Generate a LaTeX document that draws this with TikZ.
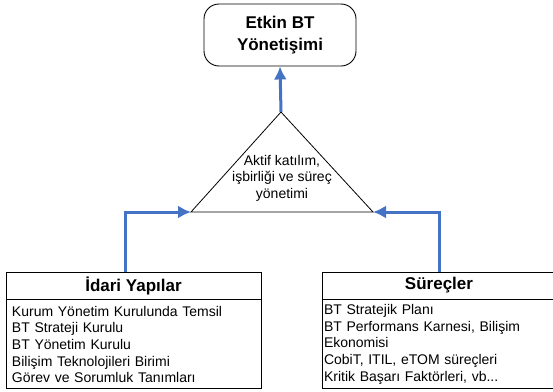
\documentclass[tikz,border=0pt]{standalone}
\usepackage{fontspec}
\setmainfont{Liberation Sans}
\usetikzlibrary{positioning, arrows.meta}
\definecolor{okmavi}{RGB}{68,114,196}

\tikzset{
  baslik/.style={draw, rectangle, line width=0.9pt, minimum height=27pt, font=\bfseries\fontsize{17}{20}\selectfont},
  icerik/.style={draw, rectangle, line width=0.9pt, align=left, anchor=north, minimum height=89pt, font=\fontsize{14}{16.6}\selectfont},
  ok/.style={draw=okmavi, line width=3pt, -{Latex[length=13pt,width=13pt]}}
}

\begin{document}
\begin{tikzpicture}[x=1pt, y=-1pt]
\useasboundingbox (0,0) rectangle (553,391);

\node[draw, rectangle, line width=0.9pt, rounded corners=15pt, minimum width=152pt, minimum height=62pt, align=center, font=\bfseries\fontsize{17}{22}\selectfont] (hedef) at (280,35) {Etkin BT\\Yönetişimi};

% ucgen
\coordinate (tepe) at (281,112);
\coordinate (solkose) at (191,212);
\coordinate (sagkose) at (373,212);
\draw[line width=0.8pt] (tepe) -- (solkose) -- (sagkose) -- cycle;
\node[align=center, font=\fontsize{14}{16.6}\selectfont] (ucgen) at (282,178) {Aktif katılım,\\işbirliği ve süreç\\yönetimi};

% kutular
\node[baslik, minimum width=255pt] (idari) at (133.5,285.5) {İdari Yapılar};
\node[icerik, inner xsep=6pt, text width=243pt] (idarimaddeler) at (idari.south) {Kurum Yönetim Kurulunda Temsil\\BT Strateji Kurulu\\BT Yönetim Kurulu\\Bilişim Teknolojileri Birimi\\Görev ve Sorumluk Tanımları};

\node[baslik, minimum width=234pt] (surec) at (439,285.5) {Süreçler};
\node[icerik, inner xsep=2pt, text width=230pt] (surecmaddeler) at (surec.south) {BT Stratejik Planı\\BT Performans Karnesi, Bilişim\\Ekonomisi\\CobiT, ITIL, eTOM süreçleri\\Kritik Başarı Faktörleri, vb...};

% oklar
\draw[ok] (tepe) -- (hedef.south);
\draw[ok] ([xshift=-8.5pt]idari.north) |- (solkose);
\draw[ok] (surec.north) |- (sagkose);
\end{tikzpicture}
\end{document}
